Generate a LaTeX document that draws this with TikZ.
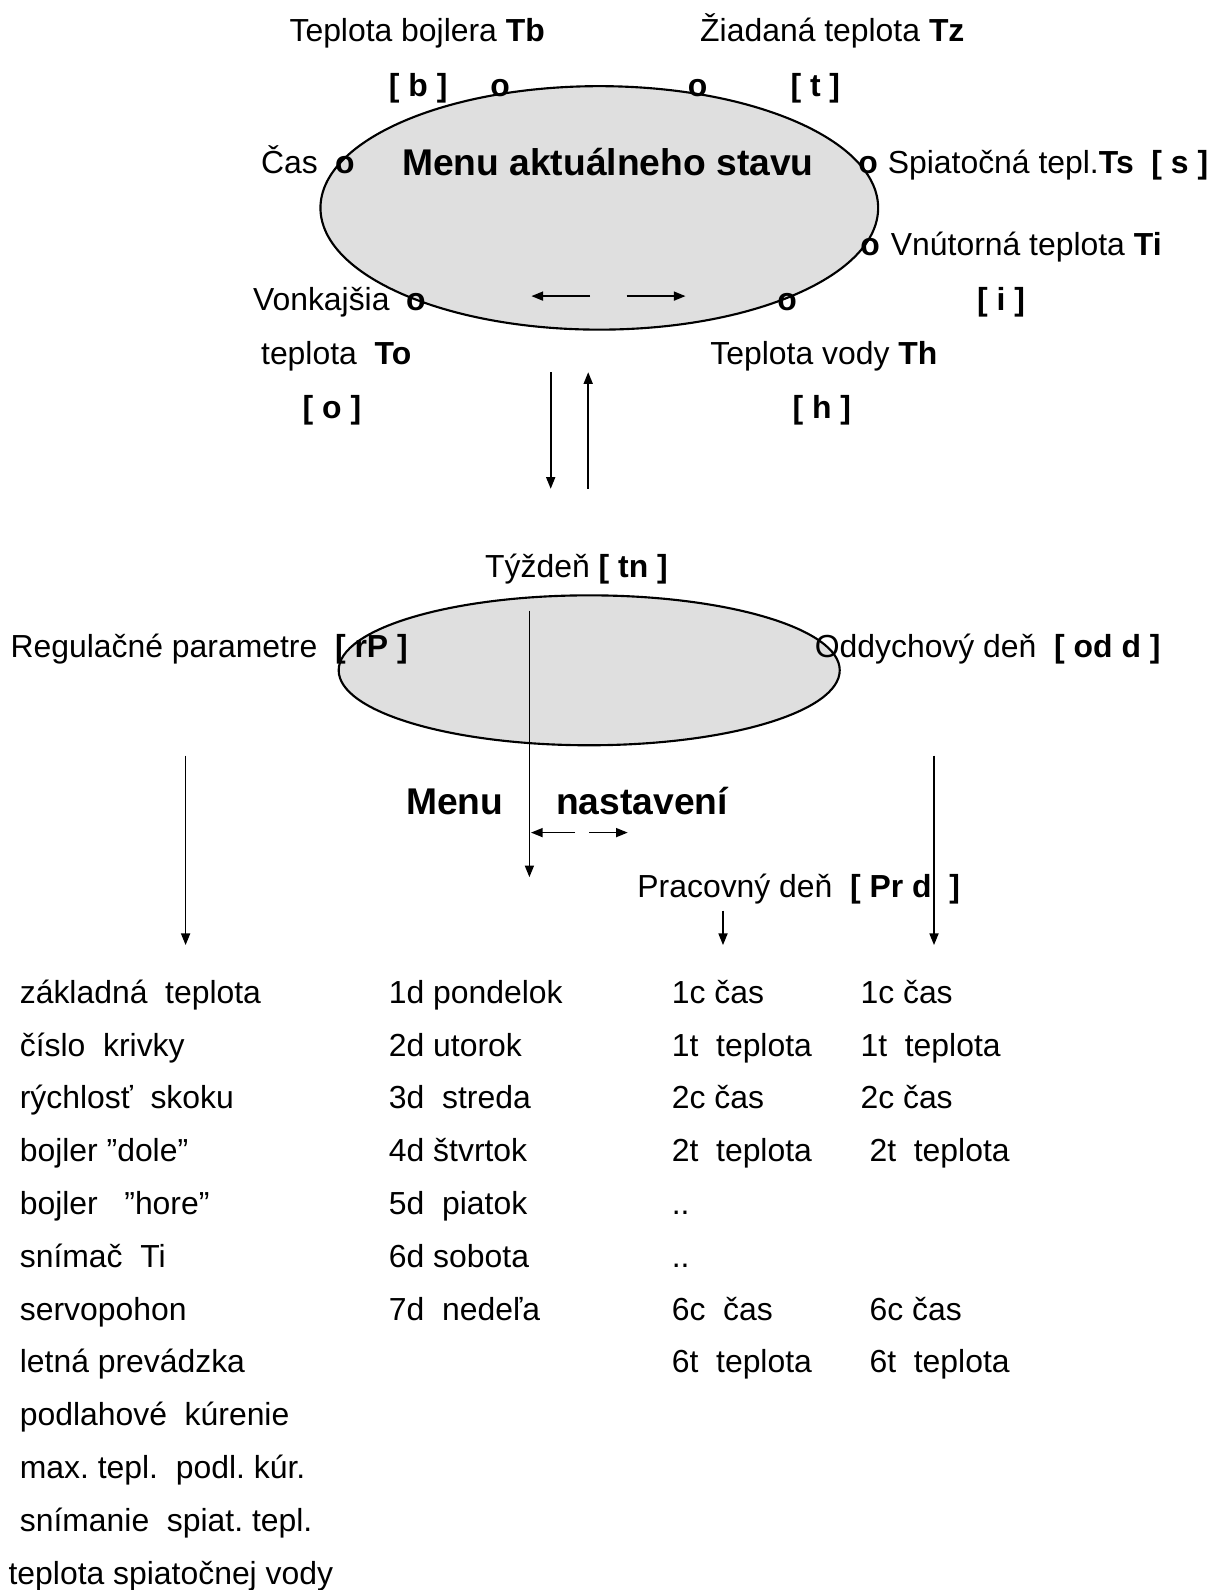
\documentclass[tikz,border=0pt]{standalone}
\usepackage{fontspec}
\setmainfont{Liberation Sans}
\frenchspacing
\usetikzlibrary{arrows.meta,positioning,shapes.geometric}

\begin{document}
\begin{tikzpicture}[
  x=0.3762pt, y=-0.3762pt,
  txt/.style={anchor=base west,inner sep=0pt,font=\fontsize{12}{14}\selectfont},
  ttl/.style={anchor=base west,inner sep=0pt,font=\fontsize{14}{17}\selectfont\bfseries},
  dot/.style={anchor=base,inner sep=0pt,font=\fontsize{12}{14}\selectfont\bfseries},
  menu/.style={draw,ellipse,fill=gray!25,line width=0.8pt,inner sep=0pt},
  arrow/.style={-{Triangle[length=4.4pt,width=3.4pt]},line width=0.6pt}
]
\useasboundingbox (0,0) rectangle (1223,1590);

\node[menu,minimum width=209.8pt,minimum height=91.6pt] (stav) at (599.3,207.9) {};
\node[ttl] (stavtitle) at (401.6,175.7) {Menu aktuálneho stavu};
\node[txt] (tb) at (289,42) {Teplota bojlera \textbf{Tb}};
\node[txt] (tz) at (699.7,42) {Žiadaná teplota \textbf{Tz}};
\node[txt] (btag) at (388.4,97) {\textbf{[ b ]}};
\node[dot] (bdot) at (500,97) {o};
\node[dot] (tdot) at (697.7,97) {o};
\node[txt] (ttag) at (790,97) {\textbf{[ t ]}};
\node[txt] (cas) at (260.6,173.8) {Čas};
\node[dot] (cdot) at (344.8,173.8) {o};
\node[dot] (sdot) at (868,173.8) {o};
\node[txt] (ts) at (887.3,173.8) {Spiatočná tepl.\textbf{Ts}\ \ \textbf{[ s ]}};
\node[dot] (idot) at (870,256) {o};
\node[txt] (ti) at (890.4,256) {Vnútorná teplota \textbf{Ti}};
\node[txt] (itag) at (976.6,311) {\textbf{[ i ]}};
\node[txt] (vonk) at (252.5,311) {Vonkajšia};
\node[dot] (odot) at (415.8,311) {o};
\node[dot] (hdot) at (787,311) {o};
\node[txt] (to) at (260.6,364.5) {teplota\ \ \textbf{To}};
\node[txt] (th) at (709.9,364.5) {Teplota vody \textbf{Th}};
\node[txt] (otag) at (302.2,418) {\textbf{[ o ]}};
\node[txt] (htag) at (792,418) {\textbf{[ h ]}};
\coordinate (sl1) at (590.2,296.1);
\coordinate (sl2) at (531.4,296.1);
\coordinate (sr1) at (626.7,296.1);
\coordinate (sr2) at (685.5,296.1);
\draw[arrow] (sl1)--(sl2);
\draw[arrow] (sr1)--(sr2);
\coordinate (dn1) at (550.7,372.2);
\coordinate (dn2) at (550.7,488.8);
\coordinate (up1) at (588.2,488.8);
\coordinate (up2) at (588.2,372.2);
\draw[arrow] (dn1)--(dn2);
\draw[arrow] (up1)--(up2);

\node[menu,minimum width=188.5pt,minimum height=56.4pt] (nast) at (589.2,670.3) {};
\node[txt] (tyzden) at (484.7,577.5) {Týždeň \textbf{[ tn ]}};
\node[txt] (regp) at (10.1,657.5) {Regulačné parametre\ \ \textbf{[ rP ]}};
\node[txt] (oddd) at (814.3,657.5) {Oddychový deň\ \ \textbf{[ od d ]}};
\node[ttl] (nastm) at (405.6,814.5) {Menu};
\node[ttl] (nastn) at (555.7,814.5) {nastavení};
\node[txt] (prd) at (636.9,897) {Pracovný deň\ \ \textbf{[ Pr d\ \ ]}};
\coordinate (tn1) at (529.4,610.5);
\coordinate (tn2) at (529.4,877.2);
\draw[arrow] (tn1)--(tn2);
\coordinate (nl1) at (575,832.6);
\coordinate (nl2) at (531,832.6);
\coordinate (nr1) at (589.2,832.6);
\coordinate (nr2) at (627.7,832.6);
\draw[arrow] (nl1)--(nl2);
\draw[arrow] (nr1)--(nr2);
\coordinate (rp1) at (185.6,755.5);
\coordinate (rp2) at (185.6,945.1);
\coordinate (od1) at (934,755.5);
\coordinate (od2) at (934,945.1);
\coordinate (pd1) at (723,910.7);
\coordinate (pd2) at (723,945.1);
\draw[arrow] (rp1)--(rp2);
\draw[arrow] (od1)--(od2);
\draw[arrow] (pd1)--(pd2);

\node[txt] (p1) at (19.3,1003.3) {základná\ \ teplota};
\node[txt] (p2) at (19.3,1056.1) {číslo\ \ krivky};
\node[txt] (p3) at (19.3,1108.9) {rýchlosť\ \ skoku};
\node[txt] (p4) at (19.3,1161.7) {bojler ”dole”};
\node[txt] (p5) at (19.3,1214.5) {bojler\ \ \ ”hore”};
\node[txt] (p6) at (19.3,1267.3) {snímač\ \ Ti};
\node[txt] (p7) at (19.3,1320.1) {servopohon};
\node[txt] (p8) at (19.3,1372.9) {letná prevádzka};
\node[txt] (p9) at (19.3,1425.7) {podlahové\ \ kúrenie};
\node[txt] (p10) at (19.3,1478.5) {max. tepl.\ \ podl. kúr.};
\node[txt] (p11) at (19.3,1531.3) {snímanie\ \ spiat. tepl.};
\node[txt] (p12) at (8.1,1584.1) {teplota spiatočnej vody};

\node[txt] (d1) at (388.4,1003.3) {1d pondelok};
\node[txt] (d2) at (388.4,1056.1) {2d utorok};
\node[txt] (d3) at (388.4,1108.9) {3d\ \ streda};
\node[txt] (d4) at (388.4,1161.7) {4d štvrtok};
\node[txt] (d5) at (388.4,1214.5) {5d\ \ piatok};
\node[txt] (d6) at (388.4,1267.3) {6d sobota};
\node[txt] (d7) at (388.4,1320.1) {7d\ \ nedeľa};

\node[txt] (w1) at (671.3,1003.3) {1c čas};
\node[txt] (w2) at (671.3,1056.1) {1t\ \ teplota};
\node[txt] (w3) at (671.3,1108.9) {2c čas};
\node[txt] (w4) at (671.3,1161.7) {2t\ \ teplota};
\node[txt] (w5) at (671.3,1214.5) {..};
\node[txt] (w6) at (671.3,1267.3) {..};
\node[txt] (w7) at (671.3,1320.1) {6c\ \ čas};
\node[txt] (w8) at (671.3,1372.9) {6t\ \ teplota};

\node[txt] (r1) at (860,1003.3) {1c čas};
\node[txt] (r2) at (860,1056.1) {1t\ \ teplota};
\node[txt] (r3) at (860,1108.9) {2c čas};
\node[txt] (r4) at (869,1161.7) {2t\ \ teplota};
\node[txt] (r7) at (869,1320.1) {6c čas};
\node[txt] (r8) at (869,1372.9) {6t\ \ teplota};
\end{tikzpicture}
\end{document}
